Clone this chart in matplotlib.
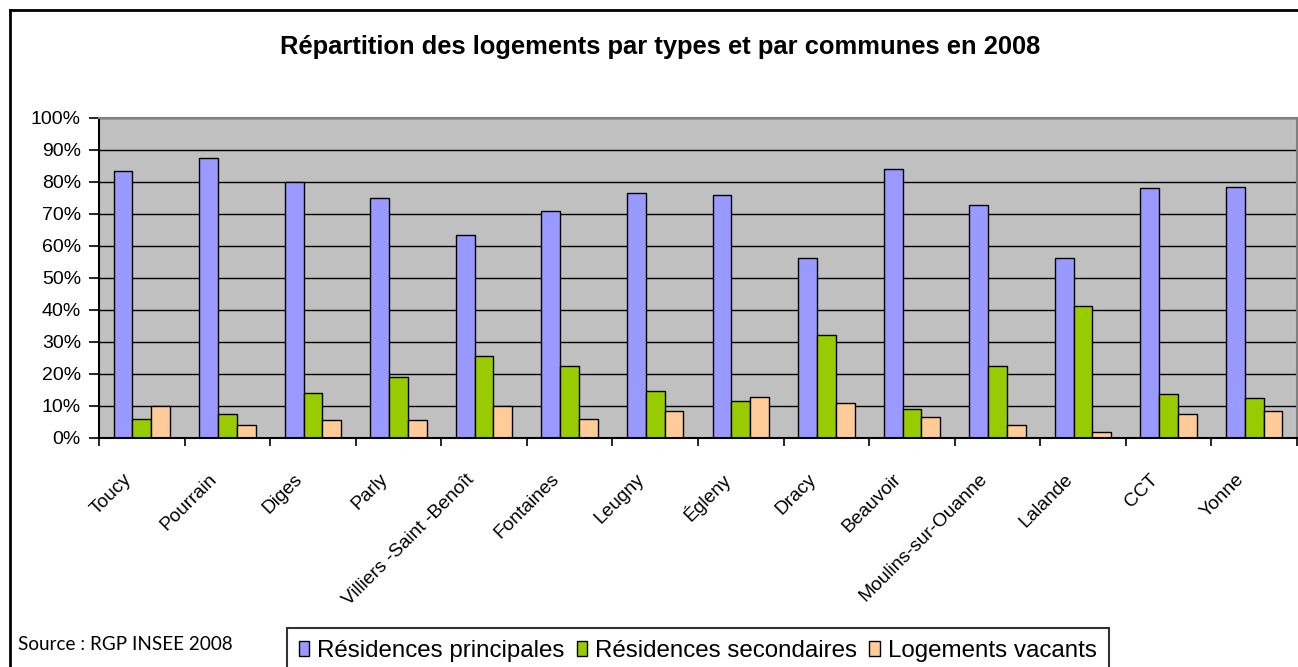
import numpy as np
import matplotlib.pyplot as plt
import matplotlib.transforms as mtransforms
from matplotlib.lines import Line2D
from matplotlib.patches import Patch

communes = ["Toucy", "Pourrain", "Diges", "Parly", "Villiers -Saint -Benoît",
            "Fontaines", "Leugny", "Égleny", "Dracy", "Beauvoir",
            "Moulins-sur-Ouanne", "Lalande", "CCT", "Yonne"]
principales = [83.4, 87.6, 80.1, 75.0, 63.4, 71.0, 76.5, 75.9, 56.3, 84.0, 72.9, 56.3, 78.0, 78.5]
secondaires = [5.8, 7.5, 14.0, 19.1, 25.6, 22.5, 14.5, 11.5, 32.1, 9.0, 22.5, 41.2, 13.6, 12.5]
vacants = [10.0, 4.1, 5.5, 5.5, 10.0, 5.9, 8.4, 12.6, 10.9, 6.6, 4.1, 1.9, 7.5, 8.4]

series = [("Résidences principales", principales, "#9999FF"),
          ("Résidences secondaires", secondaires, "#99CC00"),
          ("Logements vacants", vacants, "#FFCC99")]

W, H = 1298, 667
fig = plt.figure(figsize=(W / 100, H / 100), dpi=100)
ax = fig.add_axes([99 / W, 1 - 437.7 / H, (1297 - 99) / W, (437.7 - 118) / H])
ax.set_facecolor("#C0C0C0")

x = np.arange(len(communes))
bw = 0.22
for k, (name, vals, col) in enumerate(series):
    ax.bar(x + (k - 1) * bw, vals, bw, color=col, edgecolor="black", linewidth=1.0,
           label=name, zorder=3)

ax.set_xlim(-0.5, len(communes) - 0.5)
ax.set_ylim(0, 100)
ax.set_yticks(np.arange(0, 101, 10))
ax.set_yticklabels(["{}%".format(v) for v in range(0, 101, 10)],
                   fontsize=14, family="Liberation Sans")
ax.yaxis.grid(True, color="black", linewidth=1.0)
ax.set_axisbelow(True)
ax.tick_params(axis="y", length=7, width=1.2, pad=6, direction="out")

# ticks between the categories, labels at the centres
ax.set_xticks(np.arange(len(communes) + 1) - 0.5)
ax.set_xticklabels([])
ax.set_xticks(x, minor=True)
ax.set_xticklabels(communes, minor=True, rotation=45, ha="right", va="center",
                   rotation_mode="anchor", fontsize=13.8, family="Liberation Sans")
ax.tick_params(axis="x", which="major", bottom=True, length=6, width=1.2, direction="out")
ax.tick_params(axis="x", which="minor", bottom=True, length=0, pad=0)
shift = mtransforms.ScaledTranslation(-0.13, -0.39, fig.dpi_scale_trans)
for lab in ax.get_xticklabels(minor=True):
    lab.set_transform(lab.get_transform() + shift)

for side in ["top", "right"]:
    ax.spines[side].set_color("#808080")
    ax.spines[side].set_linewidth(1.5)
for side in ["left", "bottom"]:
    ax.spines[side].set_color("black")
    ax.spines[side].set_linewidth(1.5)
for sp in ax.spines.values():
    sp.set_zorder(4)

fig.text(660 / W, 1 - 47 / H, "Répartition des logements par types et par communes en 2008",
         ha="center", va="center", fontsize=18.4, fontweight="bold", family="Liberation Sans")

fig.text(18 / W, 1 - 645 / H, "Source : RGP INSEE 2008", ha="left", va="center",
         fontsize=13.6, family="Lato")

handles = [Patch(facecolor=col, edgecolor="black", linewidth=1.0) for _, _, col in series]
leg = fig.legend(handles, [s[0] for s in series], loc="upper left",
                 bbox_to_anchor=(287 / W, 1 - 628 / H), ncol=3, frameon=True,
                 fancybox=False, edgecolor="black",
                 prop={"family": "Liberation Sans", "size": 17.4},
                 handlelength=0.42, handleheight=0.55, handletextpad=0.34,
                 columnspacing=0.5, borderpad=0.5, borderaxespad=0)
leg.get_frame().set_linewidth(1.5)

# outer frame of the chart
fig.add_artist(Line2D([10 / W, 10 / W], [0, 1 - 10 / H], color="black", linewidth=2,
                      transform=fig.transFigure))
fig.add_artist(Line2D([10 / W, 1], [1 - 10 / H, 1 - 10 / H], color="black", linewidth=2,
                      transform=fig.transFigure))

fig.savefig("out.png", dpi=100)
